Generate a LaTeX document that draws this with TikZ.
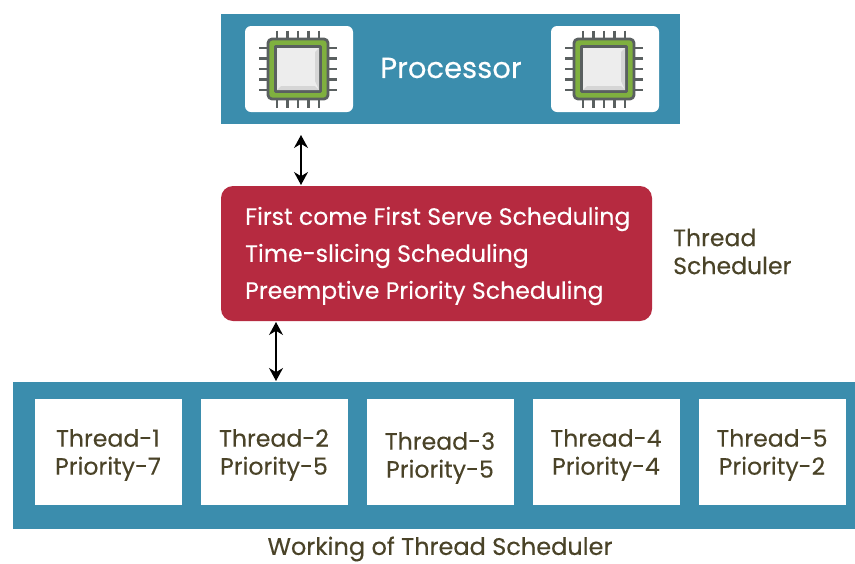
\documentclass[tikz,border=0pt]{standalone}
\usepackage{fontspec}
\setmainfont[FakeBold=0.25]{Poppins}
\usepackage{pgf,tikz}
\usetikzlibrary{arrows}
\usetikzlibrary{arrows.meta}
\definecolor{bandblue}{HTML}{3B8DAD}
\definecolor{schedred}{HTML}{B62A40}
\definecolor{labeltext}{HTML}{4A4328}
\definecolor{chipgrey}{HTML}{5A6060}
\definecolor{chipgreen}{HTML}{7FB03F}
\tikzset{
  band/.style={fill=bandblue,draw=none},
  whitebox/.style={fill=white,draw=none},
  threadtext/.style={text=labeltext,align=center,font=\fontsize{23.6}{28}\selectfont},
  schedtext/.style={text=white,anchor=west,inner sep=0pt,font=\fontsize{23.6}{24}\selectfont},
  linkarrow/.style={{Stealth[length=13pt,width=14pt]}-{Stealth[length=13pt,width=14pt]},line width=1.5pt,black},
  pics/chip/.style={code={
    \foreach \k in {-2,-1,0,1,2} {
      \draw [line width=2.8pt,chipgrey] (\k*10.5,-38.5) -- (\k*10.5,38.5);
      \draw [line width=2.8pt,chipgrey] (-39,\k*10.5) -- (39,\k*10.5);
    }
    \draw [line width=2.8pt,chipgrey,fill=chipgreen,rounded corners=4pt] (-30,-30) rectangle (30,30);
    \draw [line width=2.2pt,chipgrey,fill=black!7] (-22.5,-22.5) rectangle (22.5,22.5);
    \fill [black!16] (21,-21) -- (21,21) -- (17,12) -- (17,-17) -- cycle;
    \fill [black!16] (21,21) -- (-21,21) -- (-17,17) -- (17,17) -- cycle;
  }}
}
\begin{document}
\begin{tikzpicture}[line cap=butt,line join=round,>={Stealth},x=1pt,y=-1pt]
\useasboundingbox (0,0) rectangle (855,563);
% processor
\fill [band] (221,14) rectangle (680,124);
\fill [whitebox,rounded corners=6pt] (245,26) rectangle (353,112);
\fill [whitebox,rounded corners=6pt] (551,26) rectangle (659,112);
\pic at (298,69) {chip};
\pic at (604,69) {chip};
\node (processor) [text=white,font=\fontsize{29}{32}\selectfont] at (451,68) {Processor};
% scheduler
\fill [schedred,rounded corners=12pt] (221,186) rectangle (652,321);
\node (fcfs) [schedtext] at (245,219) {First come First Serve Scheduling};
\node (slicing) [schedtext] at (245,256) {Time-slicing Scheduling};
\node (preempt) [schedtext] at (245,293) {Preemptive Priority Scheduling};
\node (schedlabel) [threadtext,align=left,anchor=west,inner sep=0pt] at (673,251.5) {Thread\\Scheduler};
% threads
\fill [band] (13,382) rectangle (855,529);
\foreach \x/\y/\t/\p in {35/455/1/7,201/455/2/5,367/458/3/5,533/455/4/4,699/455/5/2} {
  \fill [whitebox] (\x,399) rectangle (\x+147,505);
  \node (thread\t) [threadtext] at (\x+73,\y) {Thread-\t\\Priority-\p};
}
% arrows
\coordinate (uptop) at (301,135);
\coordinate (upbot) at (301,185);
\coordinate (lowtop) at (276,322);
\coordinate (lowbot) at (276,381);
\draw [linkarrow] (uptop) -- (upbot);
\draw [linkarrow] (lowtop) -- (lowbot);
\node (caption) [text=labeltext,inner sep=0pt,font=\fontsize{24}{24}\selectfont] at (440,549) {Working of Thread Scheduler};
\end{tikzpicture}
\end{document}
